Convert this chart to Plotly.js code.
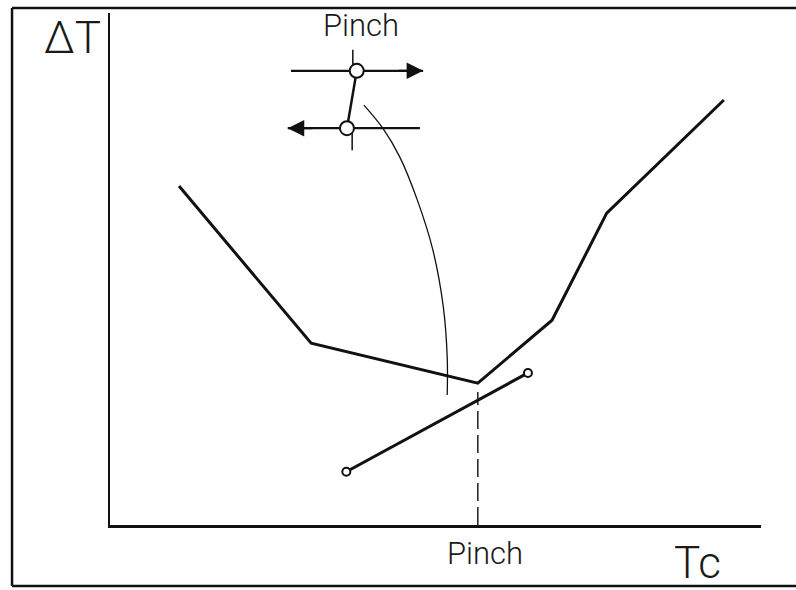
<!DOCTYPE html>
<html>
<head>
<meta charset="utf-8">
<script src="https://cdn.plot.ly/plotly-3.0.1.min.js"></script>
<style>
  html, body { margin: 0; padding: 0; background: #ffffff; }
  #chart { width: 796px; height: 590px; }
</style>
</head>
<body>
<div id="chart"></div>
<script>
// Hot composite: temperature difference along the cold-side temperature
const heatTc = [10.6, 30.9, 56.5, 67.9, 76.3, 94.3];
const heatDT = [66.2, 35.5, 27.7, 40.0, 60.9, 83.0];

// Cold stream segment with open end points
const coldTc = [36.3, 64.2];
const coldDT = [10.4, 29.7];

// Pinch position on the Tc axis
const pinchTc = 56.5;
const pinchDT = 26.0;

// Leader curve from the stream sketch down to the pinch
const leaderTc = [39.0, 41.9, 44.5, 47.2, 49.6, 51.2, 51.8, 51.8];
const leaderDT = [82.0, 77.5, 71.9, 63.5, 53.7, 42.6, 32.8, 25.4];

// Stream sketch: two streams crossing the pinch
const upperStreamTc = [27.8, 48.1];
const upperStreamDT = [88.7, 88.7];
const lowerStreamTc = [27.3, 47.6];
const lowerStreamDT = [77.5, 77.5];
const nodeTc = [37.9, 36.4];
const nodeDT = [88.7, 77.5];
const upperTickTc = [37.3, 37.3];
const upperTickDT = [92.8, 88.7];
const lowerTickTc = [37.2, 37.2];
const lowerTickDT = [77.5, 73.2];

// Text
const yLabel = 'ΔT';
const xLabel = 'Tc';
const pinchLabel = 'Pinch';

const ink = '#111111';
const textInk = '#1a1a1a';
const light = 'Roboto, "Liberation Sans", sans-serif';

const traces = [
  { x: leaderTc, y: leaderDT, mode: 'lines',
    line: { color: ink, width: 1.3, shape: 'spline', smoothing: 1.0 } },
  { x: [pinchTc, pinchTc], y: [0, pinchDT], mode: 'lines',
    line: { color: ink, width: 1.4, dash: '18px,6px' } },
  { x: heatTc, y: heatDT, mode: 'lines',
    line: { color: ink, width: 3 } },
  { x: coldTc, y: coldDT, mode: 'lines+markers',
    line: { color: ink, width: 3 },
    marker: { symbol: 'circle', size: 8, color: '#ffffff', line: { color: ink, width: 2 } } },
  { x: upperStreamTc, y: upperStreamDT, mode: 'lines', line: { color: ink, width: 2.2 } },
  { x: lowerStreamTc, y: lowerStreamDT, mode: 'lines', line: { color: ink, width: 2.2 } },
  { x: upperTickTc, y: upperTickDT, mode: 'lines', line: { color: ink, width: 1.5 } },
  { x: lowerTickTc, y: lowerTickDT, mode: 'lines', line: { color: ink, width: 1.5 } },
  { x: nodeTc, y: nodeDT, mode: 'lines+markers',
    line: { color: ink, width: 2.5 },
    marker: { symbol: 'circle', size: 14, color: '#ffffff', line: { color: ink, width: 2 } } }
];

const annotations = [
  // stream direction arrows
  { x: upperStreamTc[1], y: upperStreamDT[1], ax: upperStreamTc[1] - 4, ay: upperStreamDT[1],
    xref: 'x', yref: 'y', axref: 'x', ayref: 'y', text: '', showarrow: true,
    arrowhead: 2, arrowsize: 1.5, arrowwidth: 2.2, arrowcolor: ink, standoff: 0 },
  { x: lowerStreamTc[0], y: lowerStreamDT[0], ax: lowerStreamTc[0] + 4, ay: lowerStreamDT[0],
    xref: 'x', yref: 'y', axref: 'x', ayref: 'y', text: '', showarrow: true,
    arrowhead: 2, arrowsize: 1.5, arrowwidth: 2.2, arrowcolor: ink, standoff: 0 },
  // labels
  { x: -0.057, y: 0.951, xref: 'paper', yref: 'paper', text: yLabel, showarrow: false,
    font: { family: light, size: 44, weight: 300, color: textInk }, xanchor: 'center', yanchor: 'middle' },
  { x: 0.385, y: 0.976, xref: 'paper', yref: 'paper', text: pinchLabel, showarrow: false,
    font: { family: light, size: 31, weight: 300, color: textInk }, xanchor: 'center', yanchor: 'middle' },
  { x: 57.6, y: -0.055, xref: 'x', yref: 'paper', text: pinchLabel, showarrow: false,
    font: { family: light, size: 31, weight: 300, color: textInk }, xanchor: 'center', yanchor: 'middle' },
  { x: 0.902, y: -0.075, xref: 'paper', yref: 'paper', text: xLabel, showarrow: false,
    font: { family: light, size: 44, weight: 300, color: textInk }, xanchor: 'center', yanchor: 'middle' }
];

// Outer frame: left, top and bottom edges (the right edge runs past the page)
const frameLine = { color: ink, width: 2.5 };
const frameL = -0.1505, frameR = 1.25, frameB = -0.119, frameT = 1.0098;

const layout = {
  width: 796, height: 590,
  margin: { l: 110, r: 35, t: 13, b: 65 },
  paper_bgcolor: '#ffffff', plot_bgcolor: '#ffffff',
  showlegend: false,
  xaxis: { range: [0, 100], showgrid: false, zeroline: false, showticklabels: false,
           ticks: '', showline: true, linecolor: ink, linewidth: 3, fixedrange: true },
  yaxis: { range: [0, 100], showgrid: false, zeroline: false, showticklabels: false,
           ticks: '', showline: true, linecolor: ink, linewidth: 2.5, fixedrange: true },
  shapes: [
    { type: 'line', xref: 'paper', yref: 'paper', x0: frameL, x1: frameL, y0: frameB, y1: frameT, line: frameLine },
    { type: 'line', xref: 'paper', yref: 'paper', x0: frameL, x1: frameR, y0: frameT, y1: frameT, line: frameLine },
    { type: 'line', xref: 'paper', yref: 'paper', x0: frameL, x1: frameR, y0: frameB, y1: frameB, line: frameLine }
  ],
  annotations: annotations
};

Plotly.newPlot('chart', traces, layout, { staticPlot: true, displayModeBar: false });
</script>
</body>
</html>
